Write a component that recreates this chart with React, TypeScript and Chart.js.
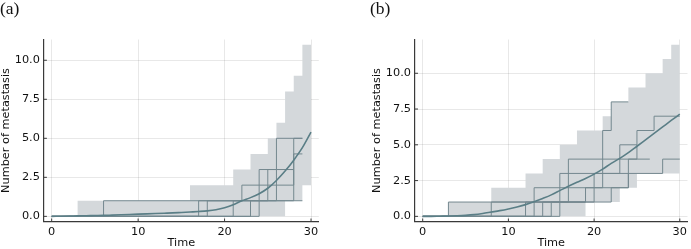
import React, { useEffect, useRef } from 'react';
import { Chart, registerables } from 'chart.js';

Chart.register(...registerables);

type P = [number, number];

// ---------- Panel (a) ----------
const timesA = [0, 1, 2, 3, 4, 5, 6, 7, 8, 9, 10, 11, 12, 13, 14, 15, 16, 17, 18, 19, 20, 21, 22, 23, 24, 25, 26, 27, 28, 29, 30];
const meanA = [0, 0.01, 0.02, 0.03, 0.04, 0.05, 0.06, 0.08, 0.1, 0.12, 0.14, 0.16, 0.18, 0.2, 0.22, 0.25, 0.28, 0.31, 0.35, 0.42, 0.55, 0.75, 1.0, 1.2, 1.45, 1.8, 2.3, 2.9, 3.6, 4.4, 5.4];
const upperA: P[] = [[0, 0], [3, 1], [16, 2], [21, 3], [23, 4], [25, 5], [26, 6], [27, 8], [28, 9], [29, 11], [30, 11]];
const lowerA: P[] = [[0, 0], [27, 1], [29, 2], [30, 2]];
const pathA1: P[] = [[0, 0], [6, 1], [29, 1]];
const pathA2: P[] = [[0, 0], [17, 1], [22, 2], [28, 4], [29, 4]];
const pathA3: P[] = [[0, 0], [18, 1], [28, 5], [29, 5]];
const pathA4: P[] = [[0, 0], [21, 1], [26, 5], [29, 5]];
const pathA5: P[] = [[0, 0], [23, 1], [25, 3], [28, 3]];
const pathA6: P[] = [[0, 0], [24, 3], [28, 3]];

// ---------- Panel (b) ----------
const timesB = [0, 1, 2, 3, 4, 5, 6, 7, 8, 9, 10, 11, 12, 13, 14, 15, 16, 17, 18, 19, 20, 21, 22, 23, 24, 25, 26, 27, 28, 29, 30];
const meanB = [0, 0, 0.01, 0.02, 0.04, 0.07, 0.12, 0.2, 0.3, 0.4, 0.52, 0.66, 0.82, 1.02, 1.25, 1.5, 1.8, 2.1, 2.38, 2.65, 2.95, 3.3, 3.7, 4.05, 4.45, 4.9, 5.35, 5.8, 6.25, 6.7, 7.14];
const upperB: P[] = [[0, 0], [3, 1], [8, 2], [12, 3], [14, 4], [16, 5], [18, 6], [21, 7], [22, 8], [24, 9], [26, 10], [28, 11], [29, 12], [30, 12]];
const lowerB: P[] = [[0, 0], [19, 1], [23, 2], [25, 3], [30, 3]];
const pathB1: P[] = [[0, 0], [3, 1], [19, 2], [24, 4], [26.5, 4]];
const pathB2: P[] = [[0, 0], [8, 1], [13, 2], [21, 6], [22, 8], [24, 8]];
const pathB3: P[] = [[0, 0], [12, 1], [16, 3], [28, 4], [30, 4]];
const pathB4: P[] = [[0, 0], [13, 1], [17, 4], [25, 6], [27, 7], [30, 7]];
const pathB5: P[] = [[0, 0], [14, 1], [20, 3], [23, 5], [25, 5]];
const pathB6: P[] = [[0, 0], [15, 1], [22, 2], [24, 3]];
const pathB7: P[] = [[0, 0], [16, 1], [19, 1]];

const xTicks = [0, 10, 20, 30];
const yTicks = [0, 2.5, 5, 7.5, 10];

const SPINE = '#3a3a3a';
const GRID = 'rgba(0,0,0,0.09)';
const BAND = '#d4d8db';
const TRAJ = '#74888f';
const MEAN = '#5a7e86';
const FONT = { family: '"DejaVu Sans", sans-serif', size: 11.3 };

const innerTicks = {
  id: 'innerTicks',
  afterDraw(chart: any) {
    const { ctx, chartArea } = chart;
    const xs = chart.scales.x;
    const ys = chart.scales.y;
    ctx.save();
    ctx.strokeStyle = SPINE;
    ctx.lineWidth = 1;
    xs.ticks.forEach((t: any) => {
      const px = xs.getPixelForValue(t.value);
      ctx.beginPath();
      ctx.moveTo(px, chartArea.bottom);
      ctx.lineTo(px, chartArea.bottom - 3);
      ctx.stroke();
    });
    ys.ticks.forEach((t: any) => {
      const py = ys.getPixelForValue(t.value);
      ctx.beginPath();
      ctx.moveTo(chartArea.left, py);
      ctx.lineTo(chartArea.left + 3, py);
      ctx.stroke();
    });
    ctx.restore();
  },
};

interface Spec {
  times: number[];
  mean: number[];
  upper: P[];
  lower: P[];
  paths: P[][];
  yMax: number;
  padLeft: number;
  padRight: number;
}

const toPts = (arr: P[]) => arr.map(([x, y]) => ({ x, y }));

function makeChart(canvas: HTMLCanvasElement, s: Spec) {
  const datasets: any[] = [];
  datasets.push({
    data: s.times.map((t, i) => ({ x: t, y: s.mean[i] })),
    borderColor: MEAN,
    borderWidth: 1.6,
    pointRadius: 0,
    cubicInterpolationMode: 'monotone',
    fill: false,
  });
  s.paths.forEach((p) =>
    datasets.push({
      data: toPts(p),
      stepped: true,
      borderColor: TRAJ,
      borderWidth: 1,
      pointRadius: 0,
      fill: false,
    })
  );
  datasets.push({
    data: toPts(s.upper),
    stepped: true,
    borderWidth: 0,
    borderColor: 'rgba(0,0,0,0)',
    backgroundColor: BAND,
    pointRadius: 0,
    fill: '+1',
  });
  datasets.push({
    data: toPts(s.lower),
    stepped: true,
    borderWidth: 0,
    borderColor: 'rgba(0,0,0,0)',
    pointRadius: 0,
    fill: false,
  });
  const pad = s.yMax * 0.03;
  return new Chart(canvas, {
    type: 'line',
    data: { datasets },
    plugins: [innerTicks],
    options: {
      animation: false,
      responsive: false,
      events: [],
      layout: { padding: { left: s.padLeft, right: s.padRight, top: 39.5, bottom: 0 } },
      plugins: { legend: { display: false }, tooltip: { enabled: false } },
      scales: {
        x: {
          type: 'linear',
          min: -0.9,
          max: 30.9,
          afterBuildTicks: (a: any) => {
            a.ticks = xTicks.map((v) => ({ value: v }));
          },
          afterFit: (a: any) => {
            a.height = 27.5;
          },
          grid: { color: GRID, lineWidth: 1, drawTicks: false },
          border: { display: true, color: SPINE, width: 1.2 },
          ticks: { font: FONT, color: '#111', padding: 4, maxRotation: 0, callback: (v: any) => String(v) },
          title: { display: true, text: 'Time', font: FONT, color: '#111', padding: { top: 0, bottom: -1 } },
        },
        y: {
          type: 'linear',
          min: -pad,
          max: s.yMax + pad,
          afterBuildTicks: (a: any) => {
            a.ticks = yTicks.map((v) => ({ value: v }));
          },
          afterFit: (a: any) => {
            a.width = 43.9;
          },
          grid: { color: GRID, lineWidth: 1, drawTicks: false },
          border: { display: true, color: SPINE, width: 1.2 },
          ticks: { font: FONT, color: '#111', padding: 4, callback: (v: any) => Number(v).toFixed(1) },
          title: { display: true, text: 'Number of metastasis', font: FONT, color: '#111', padding: { top: -1, bottom: 0 } },
        },
      },
    } as any,
  });
}

function Panel({ spec, left, width }: { spec: Spec; left: number; width: number }) {
  const ref = useRef<HTMLCanvasElement>(null);
  useEffect(() => {
    if (!ref.current) return;
    const c = makeChart(ref.current, spec);
    return () => c.destroy();
  }, []);
  return (
    <canvas
      ref={ref}
      width={width}
      height={249}
      style={{ position: 'absolute', left, top: 0, width, height: 249 }}
    />
  );
}

const specA: Spec = {
  times: timesA,
  mean: meanA,
  upper: upperA,
  lower: lowerA,
  paths: [pathA1, pathA2, pathA3, pathA4, pathA5, pathA6],
  yMax: 11,
  padLeft: 0,
  padRight: 26.2,
};

const specB: Spec = {
  times: timesB,
  mean: meanB,
  upper: upperB,
  lower: lowerB,
  paths: [pathB1, pathB2, pathB3, pathB4, pathB5, pathB6, pathB7],
  yMax: 12,
  padLeft: 26.1,
  padRight: 0.9,
};

const labelStyle: React.CSSProperties = {
  position: 'absolute',
  top: 0,
  fontFamily: '"Liberation Serif", serif',
  fontSize: 17.5,
  lineHeight: '17.5px',
  color: '#111',
  whiteSpace: 'nowrap',
};

export default function App() {
  return (
    <div style={{ position: 'fixed', left: 0, top: 0, width: 691, height: 249, background: '#fff', overflow: 'hidden' }}>
      <Panel spec={specA} left={0} width={345} />
      <Panel spec={specB} left={345} width={346} />
      <div style={{ ...labelStyle, left: 0 }}>(a)</div>
      <div style={{ ...labelStyle, left: 370 }}>(b)</div>
    </div>
  );
}
